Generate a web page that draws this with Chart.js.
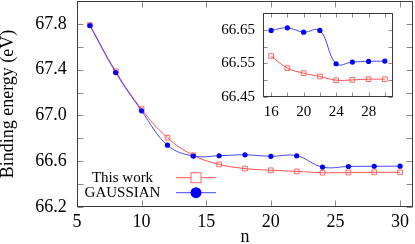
<!DOCTYPE html>
<html>
<head>
<meta charset="utf-8">
<script src="https://cdn.jsdelivr.net/npm/chart.js@4.4.1/dist/chart.umd.min.js"></script>
<style>
  html, body { margin: 0; padding: 0; background: #fff; }
  #wrap { position: relative; width: 415px; height: 244px; }
  #wrap canvas { position: absolute; left: 0; top: 0; }
</style>
</head>
<body>
<div id="wrap">
  <canvas id="main" width="415" height="244"></canvas>
  <canvas id="inset" width="415" height="244"></canvas>
</div>
<script>
// ---- data ----
const nValues = [6, 8, 10, 12, 14, 16, 18, 20, 22, 24, 26, 28, 30];
const thisWork = [67.79, 67.385, 67.055, 66.805, 66.652, 66.572, 66.536, 66.521, 66.511, 66.500, 66.501, 66.503, 66.503];
const gaussian = [67.785, 67.375, 67.04, 66.74, 66.645, 66.648, 66.656, 66.643, 66.648, 66.549, 66.554, 66.556, 66.557];

const mainXTicks = [5, 10, 15, 20, 25, 30];
const mainYTicks = [66.2, 66.6, 67.0, 67.4, 67.8];
const mainYMinor = [66.2, 66.4, 66.6, 66.8, 67.0, 67.2, 67.4, 67.6, 67.8];
const insetNStart = 16;
const insetXTicks = [16, 20, 24, 28];
const insetXMinor = [16, 18, 20, 22, 24, 26, 28, 30];
const insetYTicks = [66.45, 66.55, 66.65];
const insetYMinor = [66.45, 66.50, 66.55, 66.60, 66.65];
const seriesLabels = ['This work', 'GAUSSIAN'];

const RED = '#ff5050';
const RED_PT = '#ff6464';
const BLUE = '#4646ff';
const BLUE_PT = '#0000ff';
const FONT = '"Liberation Serif", "DejaVu Serif", serif';

function pts(xs, ys, from) {
  const out = [];
  xs.forEach((x, i) => { if (x >= from) out.push({x: x, y: ys[i]}); });
  return out;
}

const frameTicks = {
  id: 'frameTicks',
  afterDraw(chart, args, opts) {
    const {ctx, chartArea: a, scales} = chart;
    const L = Math.floor(a.left) + 0.5, R = Math.floor(a.right) - 0.5;
    const T = Math.floor(a.top) + 0.5, B = Math.floor(a.bottom) - 0.5;
    ctx.save();
    ctx.lineWidth = 1;
    ctx.strokeStyle = opts.tickColor;
    ctx.beginPath();
    opts.xTicks.forEach(v => {
      const p = Math.round(scales.x.getPixelForValue(v)) + 0.5;
      ctx.moveTo(p, B); ctx.lineTo(p, B - opts.len);
      ctx.moveTo(p, T); ctx.lineTo(p, T + opts.len);
    });
    opts.yTicks.forEach(v => {
      const p = Math.round(scales.y.getPixelForValue(v)) + 0.5;
      ctx.moveTo(L, p); ctx.lineTo(L + opts.len, p);
      ctx.moveTo(R, p); ctx.lineTo(R - opts.len, p);
    });
    ctx.stroke();
    ctx.strokeStyle = opts.borderColor;
    ctx.strokeRect(L, T, R - L, B - T);
    ctx.restore();
  }
};

const whiteArea = {
  id: 'whiteArea',
  beforeDraw(chart, args, opts) {
    if (!opts.on) return;
    const {ctx, chartArea: a} = chart;
    ctx.save();
    ctx.fillStyle = '#fff';
    ctx.fillRect(a.left, a.top, a.right - a.left, a.bottom - a.top);
    ctx.restore();
  }
};

const keyBox = {
  id: 'keyBox',
  afterDraw(chart, args, opts) {
    if (!opts.on) return;
    const {ctx, chartArea: a} = chart;
    const textX = a.left + 45.5;
    const lx1 = a.left + 99, lx2 = a.left + 139, mx = a.left + 119;
    const rows = [a.top + 176.7, a.top + 191.7];
    ctx.save();
    ctx.font = '15px ' + FONT;
    ctx.fillStyle = '#000';
    ctx.textAlign = 'center';
    ctx.textBaseline = 'middle';
    ctx.fillText(seriesLabels[0], textX, rows[0]);
    ctx.fillText(seriesLabels[1], textX, rows[1]);
    ctx.lineWidth = 1;
    ctx.strokeStyle = RED;
    ctx.beginPath(); ctx.moveTo(lx1, rows[0]); ctx.lineTo(lx2, rows[0]); ctx.stroke();
    ctx.fillStyle = '#fff';
    ctx.fillRect(mx - 5, rows[0] - 5, 10, 10);
    ctx.strokeStyle = RED_PT;
    ctx.strokeRect(mx - 5, rows[0] - 5, 10, 10);
    ctx.strokeStyle = BLUE;
    ctx.beginPath(); ctx.moveTo(lx1, rows[1]); ctx.lineTo(lx2, rows[1]); ctx.stroke();
    ctx.fillStyle = BLUE_PT;
    ctx.beginPath(); ctx.arc(mx, rows[1], 5.5, 0, Math.PI * 2); ctx.fill();
    ctx.restore();
  }
};

function zeroPad(s) {
  s.paddingTop = 0; s.paddingBottom = 0; s.paddingLeft = 0; s.paddingRight = 0;
}

function makeChart(id, cfg) {
  return new Chart(document.getElementById(id), {
    type: 'line',
    data: {
      datasets: [
        {
          label: seriesLabels[0], data: pts(nValues, thisWork, cfg.from), order: 1,
          borderColor: RED, borderWidth: 1, tension: 0.4,
          pointStyle: 'rect', pointRadius: 3.3, pointBorderWidth: 1,
          pointBorderColor: RED_PT, pointBackgroundColor: 'rgba(255,255,255,0)'
        },
        {
          label: seriesLabels[1], data: pts(nValues, gaussian, cfg.from), order: 0,
          borderColor: BLUE, borderWidth: 1, tension: 0.4,
          pointStyle: 'circle', pointRadius: 2.6, pointBorderWidth: 0,
          pointBorderColor: BLUE_PT, pointBackgroundColor: BLUE_PT
        }
      ]
    },
    options: {
      responsive: false,
      animation: false,
      devicePixelRatio: 1,
      layout: { padding: cfg.padding, autoPadding: false },
      plugins: {
        legend: { display: false },
        tooltip: { enabled: false },
        frameTicks: { xTicks: cfg.xMinor, yTicks: cfg.yMinor, len: cfg.tickLen, tickColor: '#8a8a8a', borderColor: '#3a3a3a' },
        whiteArea: { on: cfg.white },
        keyBox: { on: cfg.key }
      },
      scales: {
        x: {
          type: 'linear', min: cfg.xMin, max: cfg.xMax,
          grid: { display: false, drawTicks: false },
          border: { display: false },
          afterFit: s => { s.height = cfg.xHeight; zeroPad(s); },
          afterBuildTicks: s => { s.ticks = cfg.xTicks.map(v => ({value: v})); },
          ticks: { font: { family: FONT, size: cfg.fontSize }, color: '#000', padding: cfg.xPad, maxRotation: 0, autoSkip: false,
                   callback: v => String(v) },
          title: cfg.xTitle ? { display: true, text: cfg.xTitle, color: '#000', padding: 0,
                   font: { family: FONT, size: cfg.fontSize, lineHeight: 0.75 } } : { display: false }
        },
        y: {
          type: 'linear', min: cfg.yMin, max: cfg.yMax,
          grid: { display: false, drawTicks: false },
          border: { display: false },
          afterFit: s => { s.width = cfg.yWidth; zeroPad(s); },
          afterBuildTicks: s => { s.ticks = cfg.yTicks.map(v => ({value: v})); },
          ticks: { font: { family: FONT, size: cfg.fontSize }, color: '#000', padding: cfg.yPad, autoSkip: false,
                   callback: v => v.toFixed(cfg.dec) },
          title: cfg.yTitle ? { display: true, text: cfg.yTitle, color: '#000', padding: 0,
                   font: { family: FONT, size: cfg.fontSize, lineHeight: 0.93 } } : { display: false }
        }
      }
    },
    plugins: [whiteArea, frameTicks, keyBox]
  });
}

makeChart('main', {
  from: 0, xMin: 5, xMax: 31, yMin: 66.2, yMax: 68.0,
  xTicks: mainXTicks, xMinor: mainXTicks, yTicks: mainYTicks, yMinor: mainYMinor,
  padding: { left: 0, top: 1, right: 2, bottom: 0 },
  xHeight: 37, yWidth: 77, xPad: 4, yPad: 10.3, fontSize: 18, dec: 1, tickLen: 6,
  xTitle: 'n', yTitle: 'Binding energy (eV)', white: false, key: true
});

makeChart('inset', {
  from: insetNStart, xMin: 15, xMax: 31, yMin: 66.45, yMax: 66.70,
  xTicks: insetXTicks, xMinor: insetXMinor, yTicks: insetYTicks, yMinor: insetYMinor,
  padding: { left: 0, top: 13, right: 22, bottom: 0 },
  xHeight: 147, yWidth: 263, xPad: 5.7, yPad: 8, fontSize: 15, dec: 2, tickLen: 4,
  xTitle: null, yTitle: null, white: true, key: false
});
</script>
</body>
</html>
